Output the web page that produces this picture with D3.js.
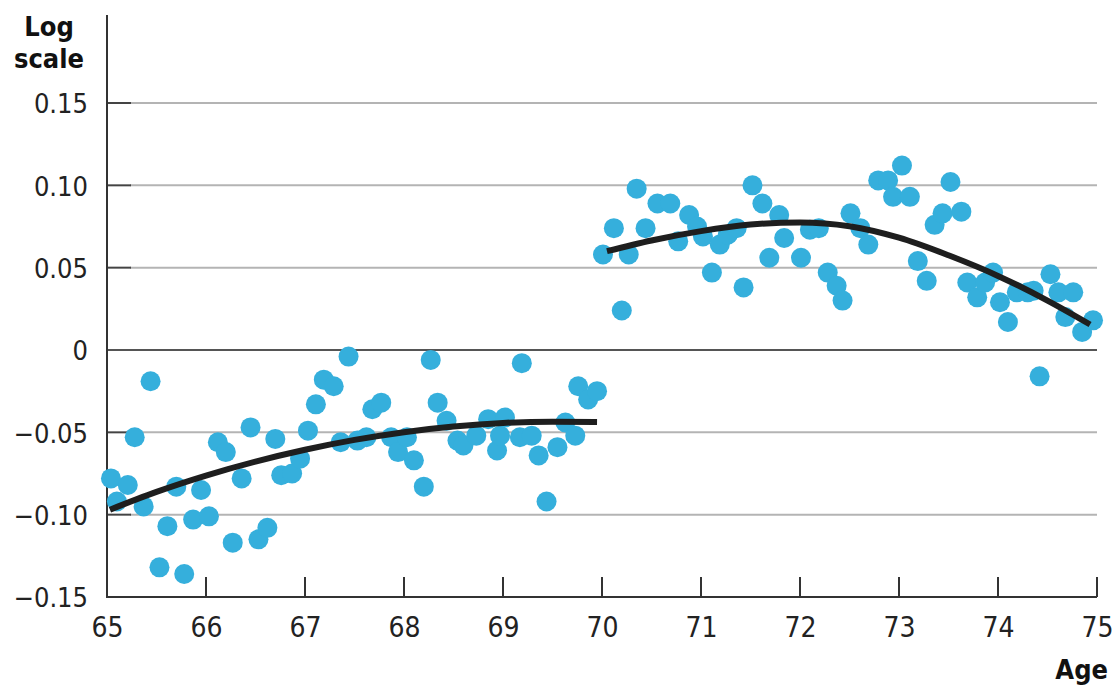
<!DOCTYPE html>
<html>
<head>
<meta charset="utf-8">
<script src="https://cdn.jsdelivr.net/npm/d3@7"></script>
<style>
  html, body { margin: 0; padding: 0; background: #fff; }
  svg { display: block; }
  .ttl { font-family: 'Liberation Sans Narrow', 'DejaVu Sans Condensed', 'Roboto', sans-serif; font-weight: bold; fill: #111; }
</style>
</head>
<body>
<svg id="chart" width="1116" height="689"></svg>
<script>
// ---- Data ----
const leftAges = [65.04,65.10,65.21,65.28,65.37,65.44,65.53,65.61,65.70,65.78,65.87,65.95,66.03,66.12,66.20,66.27,66.36,66.45,66.53,66.62,66.70,66.76,66.87,66.95,67.03,67.11,67.19,67.29,67.36,67.44,67.53,67.62,67.68,67.77,67.87,67.94,68.03,68.10,68.20,68.27,68.34,68.43,68.54,68.60,68.73,68.85,68.94,68.97,69.02,69.17,69.19,69.29,69.36,69.44,69.55,69.63,69.73,69.76,69.86,69.95];
const leftValues = [-0.078,-0.092,-0.082,-0.053,-0.095,-0.019,-0.132,-0.107,-0.083,-0.136,-0.103,-0.085,-0.101,-0.056,-0.062,-0.117,-0.078,-0.047,-0.115,-0.108,-0.054,-0.076,-0.075,-0.066,-0.049,-0.033,-0.018,-0.022,-0.056,-0.004,-0.055,-0.053,-0.036,-0.032,-0.053,-0.062,-0.053,-0.067,-0.083,-0.006,-0.032,-0.043,-0.055,-0.058,-0.052,-0.042,-0.061,-0.052,-0.041,-0.053,-0.008,-0.052,-0.064,-0.092,-0.059,-0.044,-0.052,-0.022,-0.030,-0.025];
const rightAges = [70.01,70.12,70.20,70.27,70.35,70.44,70.56,70.69,70.77,70.88,70.96,71.02,71.11,71.19,71.27,71.36,71.43,71.52,71.62,71.69,71.79,71.84,72.01,72.10,72.19,72.28,72.37,72.43,72.51,72.61,72.69,72.79,72.89,72.94,73.03,73.11,73.19,73.28,73.36,73.44,73.52,73.63,73.69,73.79,73.87,73.95,74.02,74.10,74.19,74.30,74.36,74.42,74.53,74.61,74.68,74.76,74.85,74.96];
const rightValues = [0.058,0.074,0.024,0.058,0.098,0.074,0.089,0.089,0.066,0.082,0.075,0.069,0.047,0.064,0.070,0.074,0.038,0.100,0.089,0.056,0.082,0.068,0.056,0.073,0.074,0.047,0.039,0.030,0.083,0.074,0.064,0.103,0.103,0.093,0.112,0.093,0.054,0.042,0.076,0.083,0.102,0.084,0.041,0.032,0.041,0.047,0.029,0.017,0.035,0.035,0.036,-0.016,0.046,0.035,0.020,0.035,0.011,0.018];
// fitted curves
const leftFitAges = [65.03,65.5,66,66.5,67,67.5,68,68.5,69,69.5,69.95];
const leftFitValues = [-0.097,-0.0862,-0.0763,-0.0678,-0.0606,-0.0546,-0.0499,-0.0465,-0.0443,-0.0435,-0.0437];
const rightFitAges = [70.05,70.5,71,71.5,72,72.5,73,73.5,74,74.5,74.93];
const rightFitValues = [0.0600,0.0665,0.0722,0.0762,0.0775,0.0752,0.0682,0.0575,0.0450,0.0300,0.0155];
const xTicks = [65,66,67,68,69,70,71,72,73,74,75];
const yTicks = [-0.15,-0.10,-0.05,0,0.05,0.10,0.15];
const yTickLabels = ["\u22120.15","\u22120.10","\u22120.05","0","0.05","0.10","0.15"];

// ---- Layout ----
const FONT = "'Liberation Sans Narrow', 'DejaVu Sans Condensed', Roboto, sans-serif";
const svg = d3.select("#chart");
const x = d3.scaleLinear().domain([65, 75]).range([107, 1097]);
const y = d3.scaleLinear().domain([-0.15, 0.15]).range([597, 103]);

// gridlines
const grid = svg.append("g");
yTicks.forEach((t) => {
  if (t === 0 || t === -0.15) return;
  grid.append("line")
    .attr("x1", x(65) + 23).attr("x2", x(75))
    .attr("y1", y(t)).attr("y2", y(t))
    .attr("stroke", "#b4b4b4").attr("stroke-width", 2);
  grid.append("line")
    .attr("x1", x(65)).attr("x2", x(65) + 24)
    .attr("y1", y(t)).attr("y2", y(t))
    .attr("stroke", "#444").attr("stroke-width", 2);
});
// zero line
grid.append("line")
  .attr("x1", x(65)).attr("x2", x(75))
  .attr("y1", y(0)).attr("y2", y(0))
  .attr("stroke", "#555").attr("stroke-width", 2);

// y axis labels
const yAxis = d3.axisLeft(y).tickValues(yTicks).tickSize(0).tickPadding(0)
  .tickFormat((d, i) => yTickLabels[i]);
const yg = svg.append("g").attr("transform", "translate(88,0)").call(yAxis);
yg.select(".domain").remove();
yg.selectAll("text").attr("font-size", 27).attr("dy", "0.36em")
  .style("font-family", FONT).attr("fill", "#222");

// x axis labels
const xAxis = d3.axisBottom(x).tickValues(xTicks).tickSize(0).tickPadding(0).tickFormat(d3.format("d"));
const xg = svg.append("g").attr("transform", "translate(0,597)").call(xAxis);
xg.select(".domain").remove();
xg.selectAll("text").attr("font-size", 28).attr("dy", "1.42em")
  .style("font-family", FONT).attr("fill", "#222");
// x ticks (pointing up inside plot)
svg.append("g").selectAll("line").data(xTicks.slice(1)).join("line")
  .attr("x1", d => x(d)).attr("x2", d => x(d))
  .attr("y1", 577).attr("y2", 597)
  .attr("stroke", "#333").attr("stroke-width", 2);

// axis lines
svg.append("line").attr("x1", x(65)).attr("x2", x(75)).attr("y1", y(-0.15)).attr("y2", y(-0.15))
  .attr("stroke", "#333").attr("stroke-width", 2);
svg.append("line").attr("x1", x(65)).attr("x2", x(65)).attr("y1", 15).attr("y2", y(-0.15) + 1)
  .attr("stroke", "#333").attr("stroke-width", 2);

// points
const pts = leftAges.map((a, i) => [a, leftValues[i]])
  .concat(rightAges.map((a, i) => [a, rightValues[i]]));
svg.append("g").selectAll("circle").data(pts).join("circle")
  .attr("cx", d => x(d[0])).attr("cy", d => y(d[1])).attr("r", 10)
  .attr("fill", "#35afdc");

// fit lines
const line = d3.line().x(d => x(d[0])).y(d => y(d[1])).curve(d3.curveMonotoneX);
[[leftFitAges, leftFitValues], [rightFitAges, rightFitValues]].forEach(([as, vs]) => {
  svg.append("path").datum(as.map((a, i) => [a, vs[i]]))
    .attr("d", line).attr("fill", "none").attr("stroke", "#1e1e1e")
    .attr("stroke-width", 6).attr("stroke-linecap", "butt");
});

// titles
const ttl = svg.append("text").attr("class", "ttl").attr("text-anchor", "middle").attr("font-size", 27);
ttl.append("tspan").attr("x", 49).attr("y", 36).text("Log");
ttl.append("tspan").attr("x", 49).attr("y", 68).text("scale");
svg.append("text").attr("class", "ttl").attr("text-anchor", "end").attr("font-size", 27)
  .attr("x", 1108).attr("y", 679).text("Age");
</script>
</body>
</html>
